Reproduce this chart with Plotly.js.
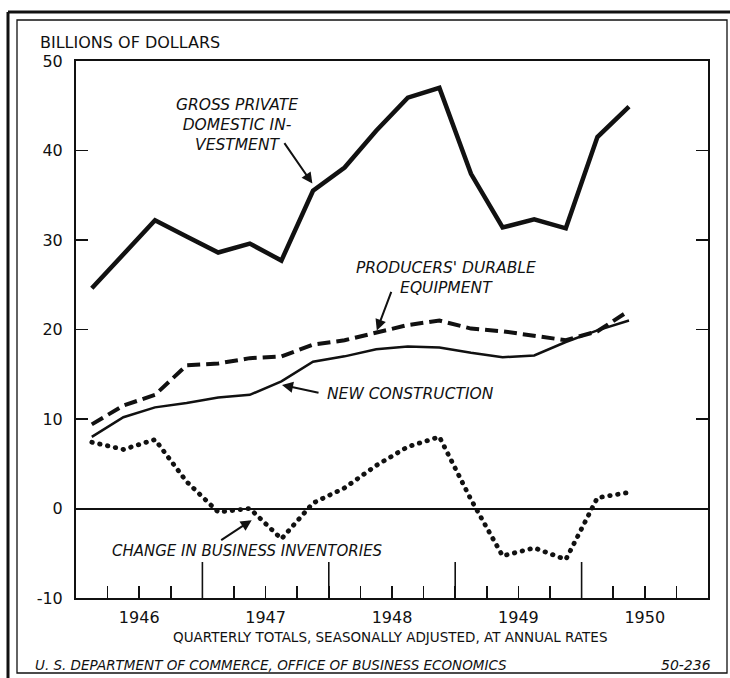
<!DOCTYPE html>
<html>
<head>
<meta charset="utf-8">
<script src="https://cdn.plot.ly/plotly-3.0.1.min.js"></script>
<style>
html,body{margin:0;padding:0;background:#fff;}
#chart{width:730px;height:678px;}
</style>
</head>
<body>
<div id="chart"></div>
<script>
// ---- data (quarterly, seasonally adjusted annual rates, billions of dollars) ----
const years = [1946, 1947, 1948, 1949, 1950];
const quarters = [
  '1946 Q1','1946 Q2','1946 Q3','1946 Q4',
  '1947 Q1','1947 Q2','1947 Q3','1947 Q4',
  '1948 Q1','1948 Q2','1948 Q3','1948 Q4',
  '1949 Q1','1949 Q2','1949 Q3','1949 Q4',
  '1950 Q1','1950 Q2'
];
const grossPrivateDomesticInvestment = [24.6, 28.4, 32.2, 30.4, 28.6, 29.6, 27.7, 35.5, 38.1, 42.2, 45.9, 47.0, 37.4, 31.4, 32.3, 31.3, 41.5, 44.9];
const producersDurableEquipment      = [9.4, 11.5, 12.7, 16.0, 16.2, 16.8, 17.0, 18.3, 18.8, 19.6, 20.5, 21.0, 20.1, 19.8, 19.3, 18.8, 19.8, 22.1];
const newConstruction                = [8.0, 10.2, 11.3, 11.8, 12.4, 12.7, 14.2, 16.4, 17.0, 17.8, 18.1, 18.0, 17.4, 16.9, 17.1, 18.6, 19.9, 21.0];
const changeInBusinessInventories    = [7.4, 6.6, 7.7, 3.0, -0.4, 0.0, -3.4, 0.6, 2.3, 4.8, 6.9, 8.0, 1.0, -5.3, -4.4, -5.7, 1.2, 1.8];
const yTicks = [-10, 0, 10, 20, 30, 40, 50];
const yTickText = ['-10', '0', '10', '20', '30', '40', '50'];

// quarter label -> position on a continuous time axis (middle of the quarter)
const xq = quarters.map(q => {
  const [y, qq] = q.split(' Q');
  return +y + (+qq - 0.5) / 4;
});

// quarter boundary ticks, year label at mid-year
const tickvals = [], ticktext = [];
years.forEach(y => {
  [0.25, 0.5, 0.75, 1].forEach(f => {
    if (y + f < years[years.length - 1] + 1) {
      tickvals.push(y + f);
      ticktext.push(f === 0.5 ? String(y) : '');
    }
  });
});
const yearBoundaries = years.slice(1);

// ---- layout geometry helpers (pixel -> paper) ----
const W = 730, H = 678, ML = 76, MR = 22, MT = 61, MB = 80;
const PW = W - ML - MR, PH = H - MT - MB;
const px = v => (v - ML) / PW;
const py = v => (H - MB - v) / PH;

const FONT = 'DejaVu Sans, Liberation Sans, sans-serif';
const INK = '#111';

const traces = [
  {x: xq, y: grossPrivateDomesticInvestment, mode: 'lines', name: 'Gross private domestic investment',
   line: {color: INK, width: 4.5}},
  {x: xq, y: producersDurableEquipment, mode: 'lines', name: "Producers' durable equipment",
   line: {color: INK, width: 4, dash: '13px,6px'}},
  {x: xq, y: newConstruction, mode: 'lines', name: 'New construction',
   line: {color: INK, width: 2.5}},
  {x: xq, y: changeInBusinessInventories, mode: 'lines', name: 'Change in business inventories',
   line: {color: INK, width: 4.8, dash: '0.5px,7.5px'}}
];

const shapes = [];
yearBoundaries.forEach(b => shapes.push({
  type: 'line', xref: 'x', yref: 'paper', x0: b, x1: b, y0: 0, y1: 36 / PH,
  line: {color: INK, width: 1.6}
}));
// outer frame
shapes.push({type: 'rect', xref: 'paper', yref: 'paper', x0: px(17), x1: px(727), y0: py(673), y1: py(20),
  line: {color: INK, width: 1.3}});
shapes.push({type: 'line', xref: 'paper', yref: 'paper', x0: px(8), x1: px(730), y0: py(12), y1: py(12),
  line: {color: INK, width: 3}});
shapes.push({type: 'line', xref: 'paper', yref: 'paper', x0: px(8), x1: px(8), y0: py(12), y1: py(678),
  line: {color: INK, width: 3}});

const txt = (text, x, y, opts) => Object.assign({
  text: text, xref: 'paper', yref: 'paper', x: px(x), y: py(y),
  xanchor: 'center', yanchor: 'middle', showarrow: false,
  font: {family: FONT, size: 15, color: INK}
}, opts || {});
const arrow = (x, y, ax, ay) => ({
  text: '', x: x, y: y, xref: 'x', yref: 'y', ax: ax, ay: ay,
  showarrow: true, arrowhead: 2, arrowsize: 1.1, arrowwidth: 2, arrowcolor: INK
});
const italic = s => '<i>' + s + '</i>';

const annotations = [
  txt('BILLIONS OF DOLLARS', 38, 43, {xanchor: 'left', font: {family: FONT, size: 16, color: INK}}),
  txt(italic('GROSS PRIVATE<br>DOMESTIC IN-<br>VESTMENT'), 237, 125, {font: {family: FONT, size: 15.5, color: INK}}),
  txt(italic("PRODUCERS' DURABLE<br>EQUIPMENT"), 446, 278, {font: {family: FONT, size: 15.5, color: INK}}),
  txt(italic('NEW CONSTRUCTION'), 325, 394, {xanchor: 'left', font: {family: FONT, size: 15.5, color: INK}}),
  txt(italic('CHANGE IN BUSINESS INVENTORIES'), 110, 551, {xanchor: 'left', font: {family: FONT, size: 15, color: INK}}),
  txt('QUARTERLY TOTALS, SEASONALLY ADJUSTED, AT ANNUAL RATES', 390, 637, {font: {family: FONT, size: 13.5, color: INK}}),
  txt(italic('U. S. DEPARTMENT OF COMMERCE, OFFICE OF BUSINESS ECONOMICS'), 33, 665, {xanchor: 'left', font: {family: FONT, size: 13.5, color: INK}}),
  txt(italic('50-236'), 713, 665, {xanchor: 'right', font: {family: FONT, size: 14, color: INK}}),
  arrow(1947.87, 36.3, -29, -42),
  arrow(1947.63, 13.8, 38, 8),
  arrow(1948.38, 19.9, 15, -40),
  arrow(1947.39, -1.3, -32, 21)
];

const layout = {
  width: W, height: H,
  margin: {l: ML, r: MR, t: MT, b: MB, pad: 0},
  paper_bgcolor: '#fff', plot_bgcolor: '#fff',
  showlegend: false,
  font: {family: FONT, color: INK},
  xaxis: {
    range: [years[0], years[years.length - 1] + 1],
    tickmode: 'array', tickvals: tickvals, ticktext: ticktext,
    ticks: 'inside', ticklen: 12, tickwidth: 1.5, tickcolor: INK,
    showline: true, linewidth: 2, linecolor: INK, mirror: true,
    showgrid: false, zeroline: false,
    ticklabelstandoff: 4,
    tickfont: {family: FONT, size: 16, color: INK}
  },
  yaxis: {
    range: [yTicks[0], yTicks[yTicks.length - 1]],
    tickmode: 'array', tickvals: yTicks, ticktext: yTickText,
    ticks: 'inside', ticklen: 12, tickwidth: 1.5, tickcolor: INK,
    showline: true, linewidth: 2, linecolor: INK, mirror: 'ticks',
    showgrid: false,
    zeroline: true, zerolinecolor: INK, zerolinewidth: 2,
    ticklabelstandoff: 8,
    tickfont: {family: FONT, size: 16, color: INK}
  },
  shapes: shapes,
  annotations: annotations
};

Plotly.newPlot('chart', traces, layout, {staticPlot: true}).then(() => {
  const lines = document.querySelectorAll('.scatterlayer .trace path.js-line');
  if (lines[3]) lines[3].style.strokeLinecap = 'round';
});
</script>
</body>
</html>
